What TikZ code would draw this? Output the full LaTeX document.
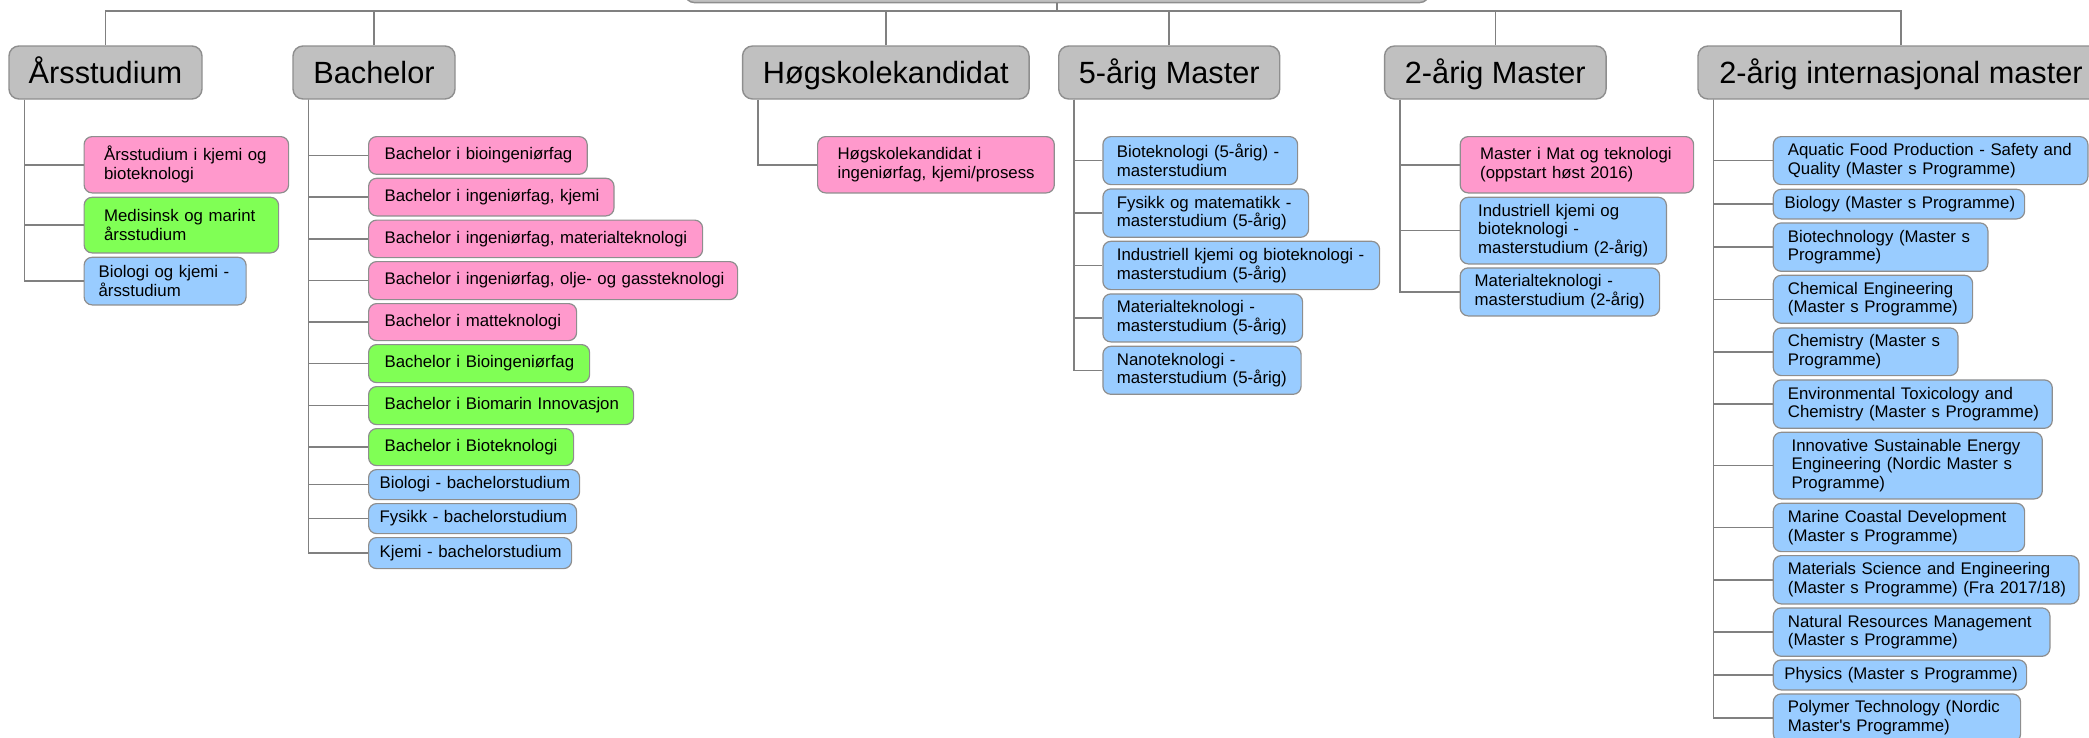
\documentclass[tikz,border=0pt]{standalone}
\usepackage{fontspec}
\setmainfont{Liberation Sans}[Ligatures=TeXOff]
\definecolor{pinkc}{HTML}{FF99CC}
\definecolor{greenc}{HTML}{80FF55}
\definecolor{bluec}{HTML}{99CCFF}
\definecolor{grayc}{HTML}{C0C0C0}
\definecolor{edgec}{HTML}{8E8E8E}
\definecolor{linec}{HTML}{808080}
\tikzset{
  catbox/.style={draw=edgec, fill=grayc, line width=1.4pt, rounded corners=10pt,
    inner sep=0pt, text height=28pt, text depth=6.4pt,
    font={\fontsize{30.7pt}{34pt}\selectfont}},
  kidbox/.style={draw=edgec, line width=1.2pt, rounded corners=8pt, inner ysep=0pt,
    align=left, font={\fontsize{16.8pt}{18.7pt}\selectfont}},
  pk/.style={kidbox, fill=pinkc},
  gk/.style={kidbox, fill=greenc},
  bk/.style={kidbox, fill=bluec},
  link/.style={draw=linec, line width=1.5pt},
}
% name, style, x1, y1, x2, y2, pad, text
\newcommand{\progbox}[8]{%
  \pgfmathsetmacro\pbw{#5-#3-2*#7}%
  \pgfmathsetmacro\pbh{#6-#4}%
  \node[#2, anchor=north west, inner xsep=#7pt, text width=\pbw pt, minimum height=\pbh pt] (#1) at (#3,#4) {#8};}
\begin{document}
\begin{tikzpicture}[x=1pt,y=-1pt]
\useasboundingbox (0,0) rectangle (2089,737);
\clip (0,0) rectangle (2089,737);
% root and categories
\node[catbox, minimum width=745pt, minimum height=40pt, anchor=south] (root) at (1057,3.3) {};
\coordinate (bus) at (1057,11);
\node[catbox, minimum width=193pt, minimum height=53pt] (cA) at (105.5,72.5) {Årsstudium};
\node[catbox, minimum width=162pt, minimum height=53pt] (cB) at (374,72.5) {Bachelor};
\node[catbox, minimum width=286.5pt, minimum height=53pt] (cH) at (885.8,72.5) {Høgskolekandidat};
\node[catbox, minimum width=221pt, minimum height=53pt] (cF) at (1169.2,72.5) {5-årig Master};
\node[catbox, minimum width=221.5pt, minimum height=53pt] (cT) at (1495.3,72.5) {2-årig Master};
\node[catbox, minimum width=406pt, minimum height=53pt] (cI) at (1901,72.5) {2-årig internasjonal master};
\draw[link] (root.south) -- (bus);
\foreach \c in {cA,cB,cH,cF,cT,cI} \draw[link] (\c.north) |- (bus);
% spines
\foreach \c in {cA,cB,cH,cF,cT,cI} \coordinate (s\c) at ([xshift=16pt]\c.south west);
% Arsstudium
\progbox{a1}{pk}{83.5}{136}{288}{192.3}{20}{\mbox{Årsstudium i kjemi og}\\\mbox{bioteknologi}}
\progbox{a2}{gk}{83.5}{196.7}{278}{252.3}{20}{\mbox{Medisinsk og marint}\\\mbox{årsstudium}}
\progbox{a3}{bk}{83.5}{256.7}{245.5}{304.3}{14.5}{\mbox{Biologi og kjemi -}\\\mbox{årsstudium}}
\foreach \k in {a1,a2,a3} \draw[link] (scA) |- (\k.west);
% Bachelor
\progbox{b1}{pk}{368}{136}{586.6}{173.7}{16}{\mbox{Bachelor i bioingeniørfag}}
\progbox{b2}{pk}{368}{177.7}{613.4}{215.3}{16}{\mbox{Bachelor i ingeniørfag, kjemi}}
\progbox{b3}{pk}{368}{219.5}{702}{257}{16}{\mbox{Bachelor i ingeniørfag, materialteknologi}}
\progbox{b4}{pk}{368}{261}{737}{299}{16}{\mbox{Bachelor i ingeniørfag, olje- og gassteknologi}}
\progbox{b5}{pk}{368}{303}{576}{340}{16}{\mbox{Bachelor i matteknologi}}
\progbox{b6}{gk}{368}{344}{589}{382}{16}{\mbox{Bachelor i Bioingeniørfag}}
\progbox{b7}{gk}{368}{386}{633}{424}{16}{\mbox{Bachelor i Biomarin Innovasjon}}
\progbox{b8}{gk}{368}{428}{573}{465}{16}{\mbox{Bachelor i Bioteknologi}}
\progbox{b9}{bk}{368}{469}{579}{499}{11}{\mbox{Biologi - bachelorstudium}}
\progbox{b10}{bk}{368}{503}{576}{533}{11}{\mbox{Fysikk - bachelorstudium}}
\progbox{b11}{bk}{368}{537}{571}{568}{11}{\mbox{Kjemi - bachelorstudium}}
\foreach \k in {b1,b2,b3,b4,b5,b6,b7,b8,b9,b10,b11} \draw[link] (scB) |- (\k.west);
% Hogskolekandidat
\progbox{h1}{pk}{817}{136}{1053.7}{192.3}{20}{\mbox{Høgskolekandidat i}\\\mbox{ingeniørfag, kjemi/prosess}}
\draw[link] (scH) |- (h1.west);
% 5-arig
\progbox{f1}{bk}{1102.3}{136}{1297}{184}{14}{\mbox{Bioteknologi (5-årig) -}\\\mbox{masterstudium}}
\progbox{f2}{bk}{1102.3}{188.3}{1308}{236.7}{14}{\mbox{Fysikk og matematikk -}\\\mbox{masterstudium (5-årig)}}
\progbox{f3}{bk}{1102.3}{240.7}{1379}{289}{14}{\mbox{Industriell kjemi og bioteknologi -}\\\mbox{masterstudium (5-årig)}}
\progbox{f4}{bk}{1102.3}{293.3}{1302}{341.3}{14}{\mbox{Materialteknologi -}\\\mbox{masterstudium (5-årig)}}
\progbox{f5}{bk}{1102.3}{345.7}{1300.5}{393.7}{14}{\mbox{Nanoteknologi -}\\\mbox{masterstudium (5-årig)}}
\foreach \k in {f1,f2,f3,f4,f5} \draw[link] (scF) |- (\k.west);
% 2-arig
\progbox{t1}{pk}{1459.6}{136}{1693}{192.3}{20}{\mbox{Master i Mat og teknologi}\\\mbox{(oppstart høst 2016)}}
\progbox{t2}{bk}{1459.6}{196.7}{1665.8}{263.3}{18}{\mbox{Industriell kjemi og}\\\mbox{bioteknologi -}\\\mbox{masterstudium (2-årig)}}
\progbox{t3}{bk}{1459.6}{267.3}{1659}{315.3}{14.5}{\mbox{Materialteknologi -}\\\mbox{masterstudium (2-årig)}}
\foreach \k in {t1,t2,t3} \draw[link] (scT) |- (\k.west);
% internasjonal
\progbox{i1}{bk}{1772.7}{136}{2087.3}{184}{14.6}{\mbox{Aquatic Food Production - Safety and}\\\mbox{Quality (Master s Programme)}}
\progbox{i2}{bk}{1772.7}{188.7}{2024}{218.3}{11.3}{\mbox{Biology (Master s Programme)}}
\progbox{i3}{bk}{1772.7}{222.3}{1987.3}{270.7}{14.6}{\mbox{Biotechnology (Master s}\\\mbox{Programme)}}
\progbox{i4}{bk}{1772.7}{274.7}{1972}{322.7}{14.6}{\mbox{Chemical Engineering}\\\mbox{(Master s Programme)}}
\progbox{i5}{bk}{1772.7}{327.3}{1957.3}{375}{14.6}{\mbox{Chemistry (Master s}\\\mbox{Programme)}}
\progbox{i6}{bk}{1772.7}{379.3}{2051.7}{427.7}{14.6}{\mbox{Environmental Toxicology and}\\\mbox{Chemistry (Master s Programme)}}
\progbox{i7}{bk}{1772.7}{431.7}{2041.7}{498.3}{18.3}{\mbox{Innovative Sustainable Energy}\\\mbox{Engineering (Nordic Master s}\\\mbox{Programme)}}
\progbox{i8}{bk}{1772.7}{502.7}{2024}{551}{14.6}{\mbox{Marine Coastal Development}\\\mbox{(Master s Programme)}}
\progbox{i9}{bk}{1772.7}{555}{2078.3}{603.3}{14.6}{\mbox{Materials Science and Engineering}\\\mbox{(Master s Programme) (Fra 2017/18)}}
\progbox{i10}{bk}{1772.7}{607.3}{2049.3}{655.7}{14.6}{\mbox{Natural Resources Management}\\\mbox{(Master s Programme)}}
\progbox{i11}{bk}{1772.7}{659.3}{2026}{689.3}{11}{\mbox{Physics (Master s Programme)}}
\progbox{i12}{bk}{1772.7}{693.3}{2020}{741.3}{14.6}{\mbox{Polymer Technology (Nordic}\\\mbox{Master's Programme)}}
\foreach \k in {i1,i2,i3,i4,i5,i6,i7,i8,i9,i10,i11,i12} \draw[link] (scI) |- (\k.west);
\end{tikzpicture}
\end{document}
